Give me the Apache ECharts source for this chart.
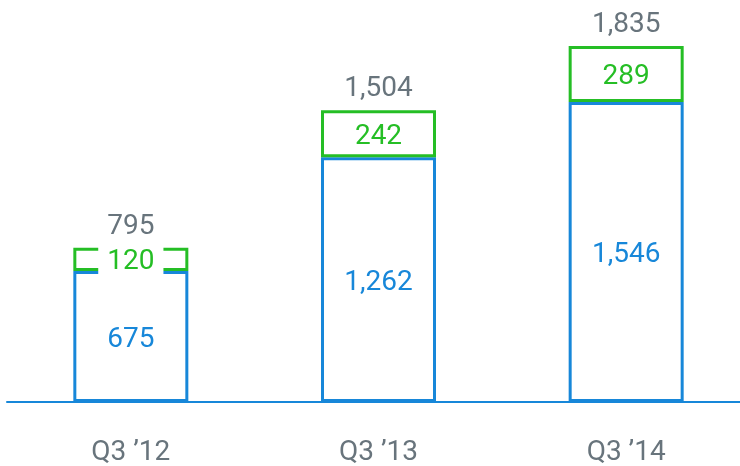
<!DOCTYPE html>
<html>
<head>
<meta charset="utf-8">
<script src="https://cdn.jsdelivr.net/npm/echarts@6/dist/echarts.min.js"></script>
<style>
  html, body { margin: 0; padding: 0; background: #fff; }
  #main { width: 740px; height: 466px; }
</style>
</head>
<body>
<div id="main"></div>
<script>
// categories and values
var categories = ["Q3 \u201912", "Q3 \u201913", "Q3 \u201914"];
var baseValues = [675, 1262, 1546];  // blue, lower part
var topValues = [120, 242, 289];     // green, upper part
var totals = [795, 1504, 1835];      // grey label above each bar

var blue = '#1787d9',
	green = '#25be25',
	grey = '#68747c';

function fmt(v) {
	return v.toLocaleString('en-US');
}

// the small first segment gets a white label box that breaks its border
var topData = topValues.map(function (v, i) {
	var item = { value: v };
	if (i === 0) {
		item.label = { backgroundColor: '#ffffff', padding: [5, 9] };
	}
	return item;
});

option = {
	animation: false,
	grid: {
		left: 7,
		right: -10,
		top: 14,
		bottom: 64,
		outerBoundsMode: 'none'
	},
	xAxis: {
		type: 'category',
		data: categories,
		axisLine: { lineStyle: { color: blue, width: 2 } },
		axisTick: { show: false },
		axisLabel: {
			color: grey,
			fontFamily: 'Roboto',
			fontSize: 28,
			margin: 37
		}
	},
	yAxis: {
		type: 'value',
		min: 0,
		max: 2000,
		show: false,
		splitLine: { show: false }
	},
	series: [
		{
			name: 'base',
			type: 'bar',
			stack: 'total',
			z: 2,
			barWidth: 115,
			data: baseValues,
			itemStyle: { color: '#fff', borderColor: blue, borderWidth: 3 },
			label: {
				show: true,
				position: 'inside',
				offset: [0, 3],
				color: blue,
				fontFamily: 'Roboto',
				fontSize: 28,
				formatter: function (p) { return fmt(p.value); }
			}
		},
		{
			// own layer so its white label box sits over the blue border too
			name: 'top',
			type: 'bar',
			stack: 'total',
			zlevel: 1,
			z: 4,
			barWidth: 115,
			data: topData,
			itemStyle: { color: '#fff', borderColor: green, borderWidth: 3 },
			label: {
				show: true,
				position: 'inside',
				offset: [0, 3],
				color: green,
				fontFamily: 'Roboto',
				fontSize: 28,
				formatter: function (p) { return fmt(p.value); }
			}
		},
		{
			// zero height bar, only carries the total label
			name: 'sum',
			type: 'bar',
			stack: 'total',
			zlevel: 1,
			z: 5,
			barWidth: 115,
			data: totals.map(function () { return 0; }),
			itemStyle: { color: 'transparent' },
			label: {
				show: true,
				position: 'top',
				distance: 7,
				color: grey,
				fontFamily: 'Roboto',
				fontSize: 28,
				formatter: function (p) { return fmt(totals[p.dataIndex]); }
			}
		}
	]
};

var myChart = echarts.init(document.getElementById('main'));
myChart.setOption(option);
</script>
</body>
</html>
